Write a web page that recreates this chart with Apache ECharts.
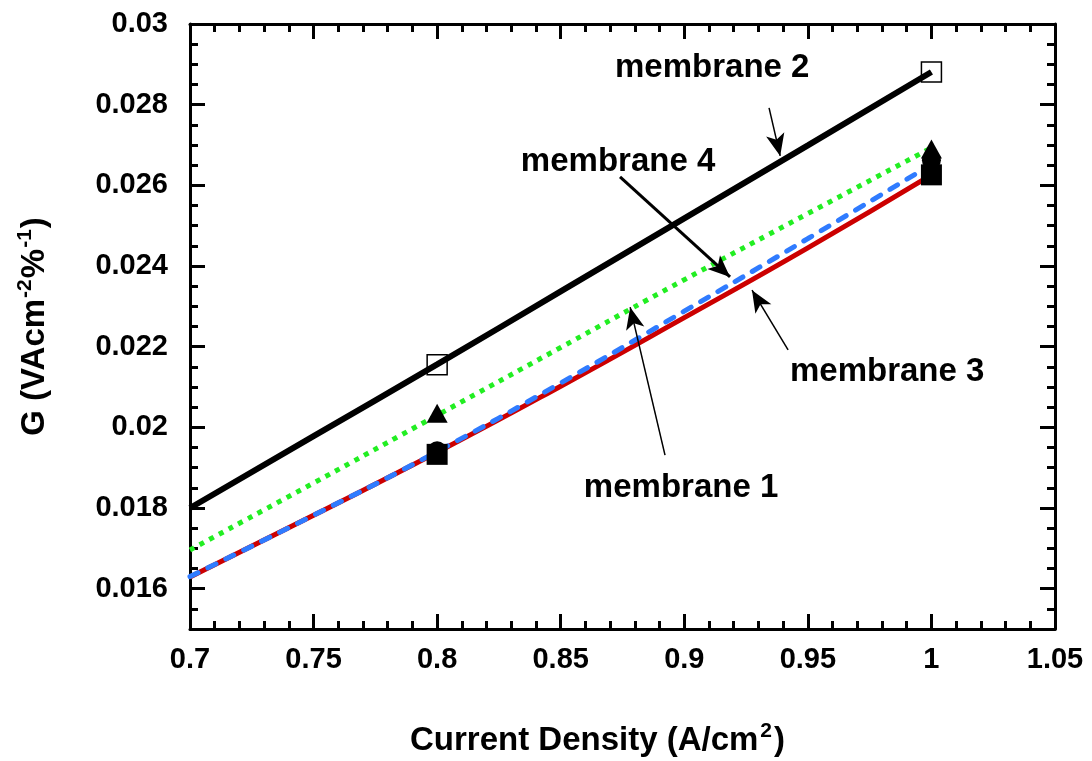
<!DOCTYPE html>
<html>
<head>
<meta charset="utf-8">
<script src="https://cdn.jsdelivr.net/npm/echarts@6/dist/echarts.min.js"></script>
<style>
  html, body { margin: 0; padding: 0; background: #fff; }
  #chart { width: 1092px; height: 761px; }
</style>
</head>
<body>
<div id="chart"></div>
<script>
// fitted curves (x = current density)
var curveX = [0.7, 0.75, 0.8, 0.85, 0.9, 0.95, 1.0];
var mem2Line = [0.0180, 0.01978, 0.02156, 0.02337, 0.02518, 0.02699, 0.02881];
var mem1Line = [0.01696, 0.01862, 0.02030, 0.02198, 0.02366, 0.02530, 0.02693];
var mem4Line = [0.01630, 0.01782, 0.01940, 0.02110, 0.02288, 0.02468, 0.02652];
var mem3Line = [0.01629, 0.01782, 0.01938, 0.02102, 0.02272, 0.02445, 0.02626];

// measured points
var pointX = [0.8, 1.0];
var mem2Pts = [0.02155, 0.02881];
var mem1Pts = [0.02035, 0.02690];
var mem4Pts = [0.01942, 0.02662];
var mem3Pts = [0.01933, 0.02626];

// y tick labels
var yTicks = [0.016, 0.018, 0.02, 0.022, 0.024, 0.026, 0.028, 0.03];

// annotation labels [x, y] and arrows [from, to, width]
var labelNames = ['membrane 2', 'membrane 4', 'membrane 3', 'membrane 1'];
var labelPos = [[0.9113, 0.02891], [0.8732, 0.02658], [0.9821, 0.02137], [0.8987, 0.01850]];
var arrows = [
  [[0.9343, 0.02792], [0.9388, 0.02673], 1.5],
  [[0.8740, 0.02621], [0.9185, 0.02373], 3],
  [[0.9420, 0.02192], [0.9274, 0.02340], 1.5],
  [[0.8922, 0.01931], [0.8781, 0.02298], 1.5]
];

function pairs(xs, ys) {
  var res = [];
  for (var i = 0; i < xs.length; i++) res.push([xs[i], ys[i]]);
  return res;
}

var font = 'Liberation Sans, Arial, sans-serif';
var myChart = echarts.init(document.getElementById('chart'));

var axisLine = { lineStyle: { color: '#000', width: 3 } };
var tickStyle = { color: '#000', width: 3 };

var markLineData = [];
for (var i = 0; i < arrows.length; i++) {
  markLineData.push([
    { coord: arrows[i][0], lineStyle: { width: arrows[i][2] } },
    { coord: arrows[i][1] }
  ]);
}
var markPointData = [];
for (var j = 0; j < labelNames.length; j++) {
  markPointData.push({ coord: labelPos[j], value: labelNames[j] });
}

// y axes: minor ticks every 0.0005 from one axis, long ticks at labels from another
function yMinor(pos) {
  return {
    type: 'value', position: pos, min: 0.015, max: 0.03, interval: 0.0005,
    axisLine: axisLine,
    axisTick: { inside: true, length: 8, lineStyle: tickStyle },
    splitLine: { show: false },
    axisLabel: { show: false }
  };
}
function yMajor(pos, showLabel) {
  return {
    type: 'value', position: pos, min: 0.015, max: 0.03, interval: 0.0005,
    axisLine: { show: false },
    axisTick: { inside: true, length: 15, lineStyle: tickStyle, customValues: yTicks },
    splitLine: { show: false },
    axisLabel: {
      show: showLabel, customValues: yTicks,
      margin: 22, color: '#000', fontSize: 29, fontWeight: 'bold', fontFamily: font,
      formatter: function (v) { return String(+v.toFixed(3)); }
    }
  };
}

var yLeft = yMajor('left', true);
yLeft.name = 'G (VAcm{sup|-2}%{sup|-1})';
yLeft.nameLocation = 'middle';
yLeft.nameGap = 136;
yLeft.nameRotate = 90;
yLeft.nameTextStyle = {
  color: '#000', fontSize: 33, fontWeight: 'bold', fontFamily: font,
  rich: { sup: { fontSize: 21, fontWeight: 'bold', fontFamily: font, color: '#000', verticalAlign: 'top', padding: [0, 1, 18, 1] } }
};

option = {
  backgroundColor: '#fff',
  animation: false,
  grid: { left: 190, right: 37, top: 24, bottom: 132, containLabel: false, outerBoundsMode: 'none' },
  xAxis: [
    {
      type: 'value', min: 0.7, max: 1.05, interval: 0.05,
      axisLine: axisLine,
      axisTick: { inside: true, length: 15, lineStyle: tickStyle },
      minorTick: { show: true, splitNumber: 5, length: 8, lineStyle: tickStyle },
      splitLine: { show: false },
      axisLabel: {
        margin: 16, color: '#000', fontSize: 29, fontWeight: 'bold', fontFamily: font,
        formatter: function (v) { return String(+v.toFixed(2)); }
      },
      name: 'Current Density (A/cm{sup|2})',
      nameLocation: 'middle', nameGap: 92,
      nameTextStyle: {
        color: '#000', fontSize: 33, fontWeight: 'bold', fontFamily: font,
        padding: [0, 50, 0, 0],
        rich: { sup: { fontSize: 21, fontWeight: 'bold', fontFamily: font, color: '#000', verticalAlign: 'top', padding: [0, 2, 18, 2] } }
      }
    },
    {
      type: 'value', position: 'top', min: 0.7, max: 1.05, interval: 0.05,
      axisLine: axisLine,
      axisTick: { inside: true, length: 15, lineStyle: tickStyle },
      minorTick: { show: true, splitNumber: 5, length: 8, lineStyle: tickStyle },
      splitLine: { show: false },
      axisLabel: { show: false }
    }
  ],
  yAxis: [yLeft, yMinor('left'), yMajor('right', false), yMinor('right')],
  series: [
    {
      name: 'membrane 3 fit', type: 'line', smooth: true, showSymbol: false,
      data: pairs(curveX, mem3Line),
      lineStyle: { color: '#cc0000', width: 5 }, z: 2
    },
    {
      name: 'membrane 4 fit', type: 'line', smooth: true, showSymbol: false,
      data: pairs(curveX, mem4Line),
      lineStyle: { color: '#2f7bff', width: 5, type: [9, 11], cap: 'round' }, z: 3
    },
    {
      name: 'membrane 1 fit', type: 'line', smooth: true, showSymbol: false,
      data: pairs(curveX, mem1Line),
      lineStyle: { color: '#22ee22', width: 5, type: [5, 6] }, z: 3
    },
    {
      name: 'membrane 2 fit', type: 'line', smooth: true, showSymbol: false,
      data: pairs(curveX, mem2Line),
      lineStyle: { color: '#000', width: 6 }, z: 3,
      markLine: {
        silent: true, symbol: ['none', 'arrow'], symbolSize: [14, 22],
        label: { show: false },
        lineStyle: { color: '#000', type: 'solid' },
        data: markLineData
      },
      markPoint: {
        silent: true, symbol: 'circle', symbolSize: 0,
        label: {
          show: true, position: 'inside', color: '#000',
          fontSize: 33, fontWeight: 'bold', fontFamily: font,
          formatter: function (p) { return p.value; }
        },
        data: markPointData
      }
    },
    {
      name: 'membrane 3', type: 'scatter', symbol: 'rect', symbolSize: 21,
      data: pairs(pointX, mem3Pts), itemStyle: { color: '#000', opacity: 1 }, z: 5
    },
    {
      name: 'membrane 4', type: 'scatter', symbol: 'circle', symbolSize: 19,
      data: pairs(pointX, mem4Pts), itemStyle: { color: '#000', opacity: 1 }, z: 5
    },
    {
      name: 'membrane 1', type: 'scatter', symbol: 'triangle', symbolSize: [21, 19],
      data: pairs(pointX, mem1Pts), itemStyle: { color: '#000', opacity: 1 }, z: 5
    },
    {
      name: 'membrane 2', type: 'scatter', symbol: 'rect', symbolSize: 20,
      data: pairs(pointX, mem2Pts),
      itemStyle: { color: 'rgba(255,255,255,0)', borderColor: '#000', borderWidth: 1.5, opacity: 1 }, z: 5
    }
  ]
};
myChart.setOption(option);
</script>
</body>
</html>
